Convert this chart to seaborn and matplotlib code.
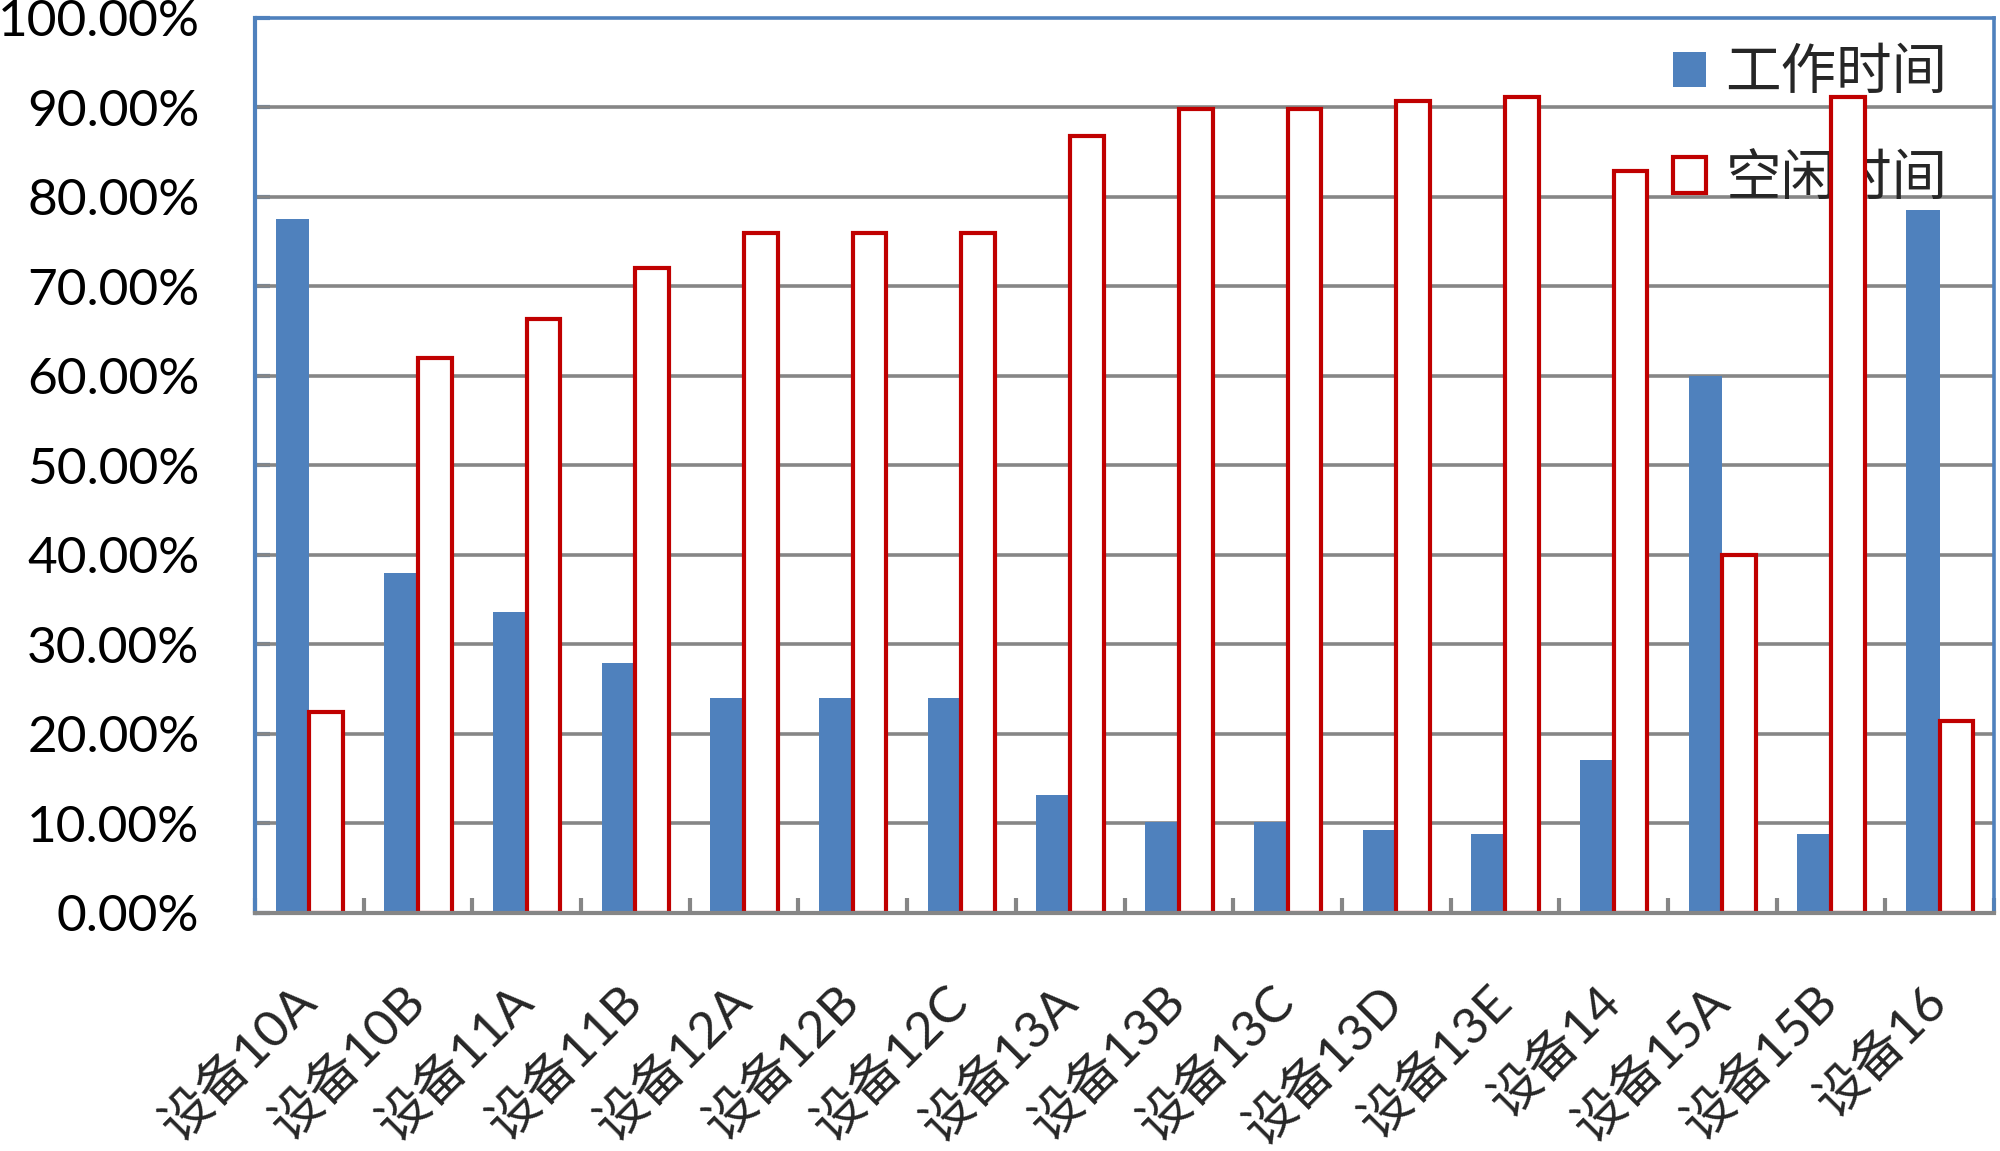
import numpy as np
import pandas as pd
import seaborn as sns
import matplotlib.pyplot as plt
import matplotlib.patches as patches
from matplotlib.ticker import FuncFormatter, FixedLocator
from matplotlib.transforms import ScaledTranslation

# 设备名称
devices = ["设备10A", "设备10B", "设备11A", "设备11B", "设备12A", "设备12B", "设备12C",
           "设备13A", "设备13B", "设备13C", "设备13D", "设备13E", "设备14", "设备15A",
           "设备15B", "设备16"]
# 工作时间 / 空闲时间 (%)
work_time = [77.5, 38.0, 33.6, 27.9, 24.0, 24.0, 24.0, 13.2, 10.2, 10.2, 9.3, 8.8, 17.1, 60.0, 8.8, 78.5]
idle_time = [22.5, 62.0, 66.4, 72.1, 76.0, 76.0, 76.0, 86.8, 89.8, 89.8, 90.7, 91.2, 82.9, 40.0, 91.2, 21.5]
series_names = ["工作时间", "空闲时间"]

blue = "#4F81BD"
red = "#C00000"
grid_gray = "#868686"

sns.set_theme(style="white")
plt.rcParams['font.family'] = ['Lato', 'Noto Sans CJK SC', 'DejaVu Sans']

df = pd.DataFrame({
    "设备": devices * 2,
    "值": work_time + idle_time,
    "类型": [series_names[0]] * len(devices) + [series_names[1]] * len(devices),
})

fig = plt.figure(figsize=(20, 11.51), dpi=100)
ax = fig.add_axes([0.1275, 0.2068, 0.8695, 0.7776])

sns.barplot(data=df, x="设备", y="值", hue="类型", palette=[blue, red],
            width=0.62, gap=0, saturation=1, ax=ax, legend=False, zorder=2)

# 空闲时间: 白底红框
for p in ax.containers[0]:
    p.set_facecolor(blue)
    p.set_edgecolor("none")
for p in ax.containers[1]:
    p.set_facecolor("white")
    p.set_edgecolor(red)
    p.set_linewidth(3)

ax.set_xlim(-0.5, len(devices) - 0.5)
ax.set_ylim(0, 100)
ax.set_xlabel("")
ax.set_ylabel("")

# 网格线
for v in range(10, 100, 10):
    ax.axhline(v, color=grid_gray, lw=2.6, zorder=1)

ax.yaxis.set_major_locator(FixedLocator(range(0, 101, 10)))
ax.yaxis.set_major_formatter(FuncFormatter(lambda v, pos: f"{v:.2f}%"))
ax.tick_params(axis="y", direction="in", length=11, width=3, color=blue,
               labelsize=37, pad=40, labelcolor="black", left=True)

ax.set_xticks(np.arange(len(devices)))
ax.set_xticklabels(devices, rotation=45, ha="right", va="top", fontsize=37)
ax.set_xticks(np.arange(len(devices) + 1) - 0.5, minor=True)
ax.tick_params(axis="x", which="major", length=0, pad=46)
ax.tick_params(axis="x", which="minor", direction="in", length=11, width=3,
               color=grid_gray, bottom=True)
for lbl in ax.get_xticklabels():
    lbl.set_transform(lbl.get_transform() + ScaledTranslation(0.16, 0, fig.dpi_scale_trans))

for side in ["left", "top", "right"]:
    ax.spines[side].set_color(blue)
    ax.spines[side].set_linewidth(2.6)
ax.spines["left"].set_linewidth(3)
ax.spines["bottom"].set_color(grid_gray)
ax.spines["bottom"].set_linewidth(3)

handles = [patches.Patch(facecolor=blue, edgecolor="none", label=series_names[0]),
           patches.Patch(facecolor="white", edgecolor=red, linewidth=3, label=series_names[1])]
leg = ax.legend(handles=handles, loc="upper right", bbox_to_anchor=(1.002, 1.022),
                frameon=False, fontsize=40, handlelength=0.6, handleheight=0.6,
                handletextpad=0.35, labelspacing=0.98)
leg.set_zorder(1.5)

fig.savefig("out.png", dpi=100)
